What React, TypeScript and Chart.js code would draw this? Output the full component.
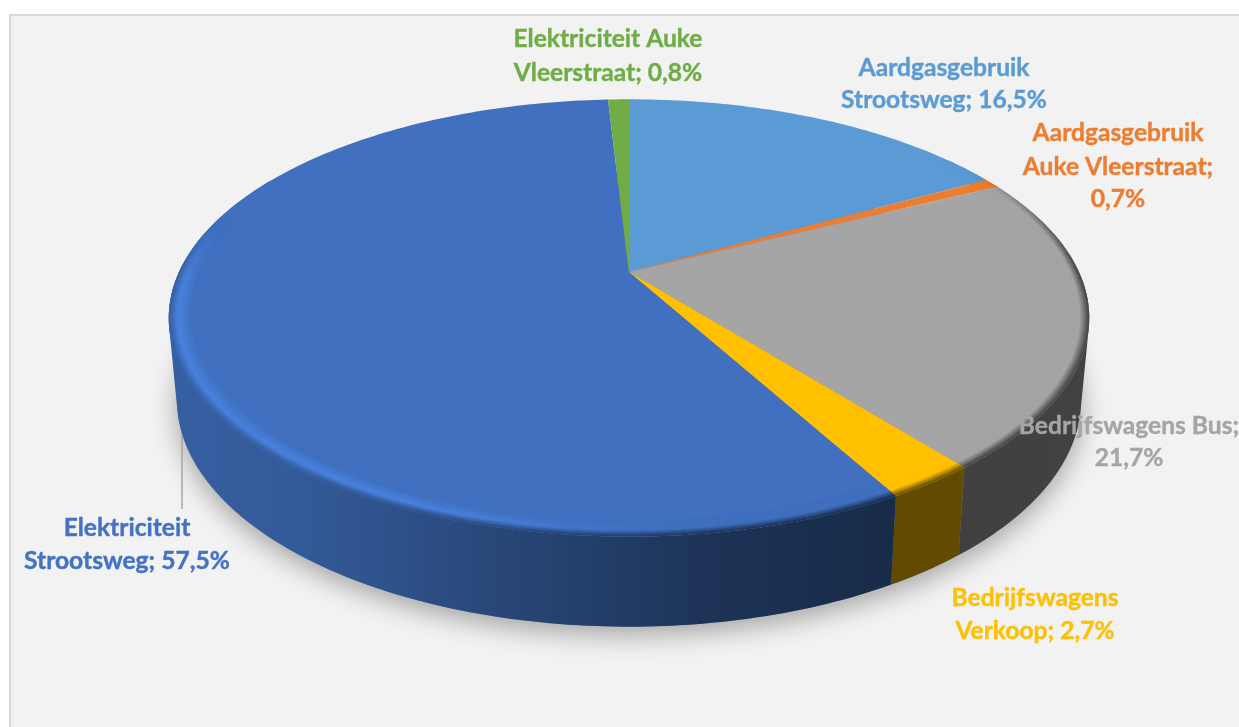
import React, { useEffect, useRef } from "react";
import { Chart, registerables } from "chart.js";

Chart.register(...registerables);

const categories = [
  "Aardgasgebruik Strootsweg",
  "Aardgasgebruik Auke Vleerstraat",
  "Bedrijfswagens Bus",
  "Bedrijfswagens Verkoop",
  "Elektriciteit Strootsweg",
  "Elektriciteit Auke Vleerstraat",
];
const values = [16.5, 0.7, 21.7, 2.7, 57.5, 0.8];
const colors = ["#5B9BD5", "#ED7D31", "#A5A5A5", "#FFC000", "#4070BF", "#70AD47"];
const textColors = ["#5B9BD5", "#ED7D31", "#A5A5A5", "#FFC000", "#4472C4", "#70AD47"];
const wrapAfterWords = [[1], [1, 3], [2], [1], [1], [2]];
const labelCentres = [
  [944, [68, 100]],
  [1118, [133, 167, 199]],
  [1129, [426, 458]],
  [1035, [598, 631]],
  [127, [528, 561]],
  [608, [39, 73]],
] as [number, number[]][];

const CX = 629;
const K = 0.21;
const WARP = 0.028;
const TOP = { R: 450, S: 209, A: 272 };
const BOTTOM = { R: 442, S: 217, A: 352 };
const BAND_START = 0.95;
const WALL_STOPS = [
  [170, 0.85],
  [300, 0.8],
  [500, 0.63],
  [700, 0.46],
  [890, 0.38],
  [1089, 0.4],
];

type Plane = { R: number; S: number; A: number };
type RGB = [number, number, number];

const project = (p: Plane, angle: number, r = 1): [number, number] => {
  const c = Math.cos(angle);
  const a = angle + WARP * Math.sign(c) * Math.sqrt(Math.abs(c));
  const u = Math.cos(a) * r;
  const v = Math.sin(a) * r;
  const w = 1 - K * v;
  return [CX + (p.R * u) / w, p.A + (p.S * v) / w];
};
const hexRgb = (h: string): RGB => [
  parseInt(h.slice(1, 3), 16),
  parseInt(h.slice(3, 5), 16),
  parseInt(h.slice(5, 7), 16),
];
const css = (c: RGB) => `rgb(${c.map((n) => Math.round(Math.min(255, n))).join(",")})`;
const mix = (a: RGB, b: RGB, t: number): RGB =>
  [a[0] + (b[0] - a[0]) * t, a[1] + (b[1] - a[1]) * t, a[2] + (b[2] - a[2]) * t] as RGB;
const scale = (c: RGB, f: number): RGB => [c[0] * f, c[1] * f, c[2] * f];
const smooth = (e0: number, e1: number, x: number) => {
  const t = Math.max(0, Math.min(1, (x - e0) / (e1 - e0)));
  return t * t * (3 - 2 * t);
};
const wallFactor = (x: number) => {
  for (let i = 1; i < WALL_STOPS.length; i++) {
    if (x <= WALL_STOPS[i][0]) {
      const [x0, f0] = WALL_STOPS[i - 1];
      const [x1, f1] = WALL_STOPS[i];
      return f0 + ((f1 - f0) * Math.max(0, x - x0)) / (x1 - x0);
    }
  }
  return WALL_STOPS[WALL_STOPS.length - 1][1];
};
const angleSteps = (s: number, e: number, step: number) => {
  const n = Math.max(1, Math.ceil((e - s) / step));
  return Array.from({ length: n + 1 }, (_, i) => s + ((e - s) * i) / n);
};
const addQuad = (ctx: CanvasRenderingContext2D, q: [number, number][]) => {
  let area = 0;
  q.forEach(([x, y], i) => {
    const [nx, ny] = q[(i + 1) % q.length];
    area += x * ny - nx * y;
  });
  const pts = area < 0 ? [...q].reverse() : q;
  ctx.moveTo(pts[0][0], pts[0][1]);
  pts.slice(1).forEach(([x, y]) => ctx.lineTo(x, y));
  ctx.closePath();
};

const pie3d = {
  id: "pie3d",
  beforeDraw(chart: any) {
    const ctx = chart.ctx;
    ctx.save();
    ctx.fillStyle = "#FFFFFF";
    ctx.fillRect(0, 0, chart.width, chart.height);
    ctx.fillStyle = "#D9D9D9";
    ctx.fillRect(9, 14, chart.width, chart.height);
    ctx.fillStyle = "#F2F2F2";
    ctx.fillRect(11, 16, chart.width, chart.height);
    ctx.restore();
  },
  beforeDatasetsDraw(chart: any) {
    const ctx = chart.ctx;
    const arcs = chart.getDatasetMeta(0).data;
    const full = angleSteps(0, Math.PI * 2, Math.PI / 180);

    // soft drop shadow under the pie
    ctx.save();
    ctx.shadowColor = "rgba(0,0,0,0.33)";
    ctx.shadowBlur = 26;
    ctx.shadowOffsetY = 8;
    ctx.fillStyle = "#888";
    ctx.beginPath();
    full.forEach((a, i) => {
      const [x, y] = project(BOTTOM, a);
      i ? ctx.lineTo(x, y) : ctx.moveTo(x, y);
    });
    ctx.closePath();
    ctx.fill();
    ctx.restore();

    // leader line
    ctx.save();
    ctx.strokeStyle = "#A6A6A6";
    ctx.lineWidth = 1.5;
    ctx.beginPath();
    ctx.moveTo(182, 433);
    ctx.lineTo(182, 509);
    ctx.stroke();
    ctx.restore();

    // walls: the swept quads of a slice are filled as one path, so no seams
    arcs.forEach((arc: any, i: number) => {
      const base = hexRgb(colors[i]);
      const grad = ctx.createLinearGradient(170, 0, 1089, 0);
      WALL_STOPS.forEach(([x, f]) => grad.addColorStop((x - 170) / 919, css(scale(base, f))));
      const steps = angleSteps(arc.startAngle, arc.endAngle, Math.PI / 180);
      ctx.fillStyle = grad;
      ctx.beginPath();
      for (let s = 0; s + 1 < steps.length; s++) {
        const a0 = steps[s];
        const a1 = steps[s + 1];
        if (Math.sin((a0 + a1) / 2) < -0.5) continue;
        addQuad(ctx, [
          project(TOP, a0),
          project(TOP, a1),
          project(BOTTOM, a1),
          project(BOTTOM, a0),
        ]);
      }
      ctx.fill();
    });

    // top faces, bevel included
    arcs.forEach((arc: any, i: number) => {
      const face = hexRgb(colors[i]);
      const steps = angleSteps(arc.startAngle, arc.endAngle, Math.PI / 180);
      ctx.save();
      ctx.beginPath();
      ctx.moveTo(...project(TOP, 0, 0));
      steps.forEach((a) => ctx.lineTo(...project(TOP, a)));
      ctx.closePath();
      ctx.fillStyle = css(face);
      ctx.fill();
      ctx.clip();
      const rings = 14;
      ctx.lineWidth = 0.7;
      for (let s = 0; s + 1 < steps.length; s++) {
        const a0 = steps[s];
        const a1 = steps[s + 1];
        const am = (a0 + a1) / 2;
        const xm = project(TOP, am)[0];
        const v = Math.sin(am);
        const strength = xm < CX ? smooth(-0.3, 0.08, v) : smooth(-0.62, 0.0, v);
        if (strength <= 0) continue;
        const lit = scale(face, 1 + 0.17 * smooth(720, 380, xm));
        const wall = scale(face, wallFactor(xm));
        for (let r = 0; r < rings; r++) {
          const t = (r + 0.5) / rings;
          const c = t < 0.62 ? mix(face, lit, t / 0.62) : mix(lit, wall, (t - 0.62) / 0.38);
          const col = css(mix(face, c, strength));
          const r0 = BAND_START + ((1 - BAND_START) * r) / rings;
          const r1 = BAND_START + ((1 - BAND_START) * (r + 1)) / rings;
          ctx.fillStyle = col;
          ctx.strokeStyle = col;
          ctx.beginPath();
          ctx.moveTo(...project(TOP, a0, r0));
          ctx.lineTo(...project(TOP, a1, r0));
          ctx.lineTo(...project(TOP, a1, r1));
          ctx.lineTo(...project(TOP, a0, r1));
          ctx.closePath();
          ctx.fill();
          ctx.stroke();
        }
      }
      ctx.restore();
    });
    return false;
  },
  afterDraw(chart: any) {
    const ctx = chart.ctx;
    ctx.save();
    ctx.font = 'bold 24.6px Lato, "Open Sans", sans-serif';
    ctx.textAlign = "center";
    ctx.textBaseline = "middle";
    ctx.lineWidth = 0.4;
    ctx.lineJoin = "round";
    categories.forEach((cat, i) => {
      const words = `${cat}; ${values[i].toFixed(1).replace(".", ",")}%`.split(" ");
      const cuts = [0, ...wrapAfterWords[i], words.length];
      const [x, ys] = labelCentres[i];
      ctx.fillStyle = textColors[i];
      ctx.strokeStyle = textColors[i];
      ys.forEach((y, l) => {
        const line = words.slice(cuts[l], cuts[l + 1]).join(" ");
        ctx.fillText(line, x, y);
        ctx.strokeText(line, x, y);
      });
    });
    ctx.restore();
  },
};

export default function App() {
  const ref = useRef<HTMLCanvasElement>(null);
  useEffect(() => {
    const chart = new Chart(ref.current as HTMLCanvasElement, {
      type: "pie",
      data: {
        labels: categories,
        datasets: [{ data: values, backgroundColor: colors, borderWidth: 0 }],
      },
      options: {
        animation: false,
        responsive: false,
        rotation: 0,
        plugins: { legend: { display: false }, tooltip: { enabled: false } },
      },
      plugins: [pie3d],
    } as any);
    return () => chart.destroy();
  }, []);
  return (
    <div style={{ position: "fixed", left: 0, top: 0, width: 1239, height: 727 }}>
      <canvas ref={ref} width={1239} height={727} style={{ display: "block" }} />
    </div>
  );
}
